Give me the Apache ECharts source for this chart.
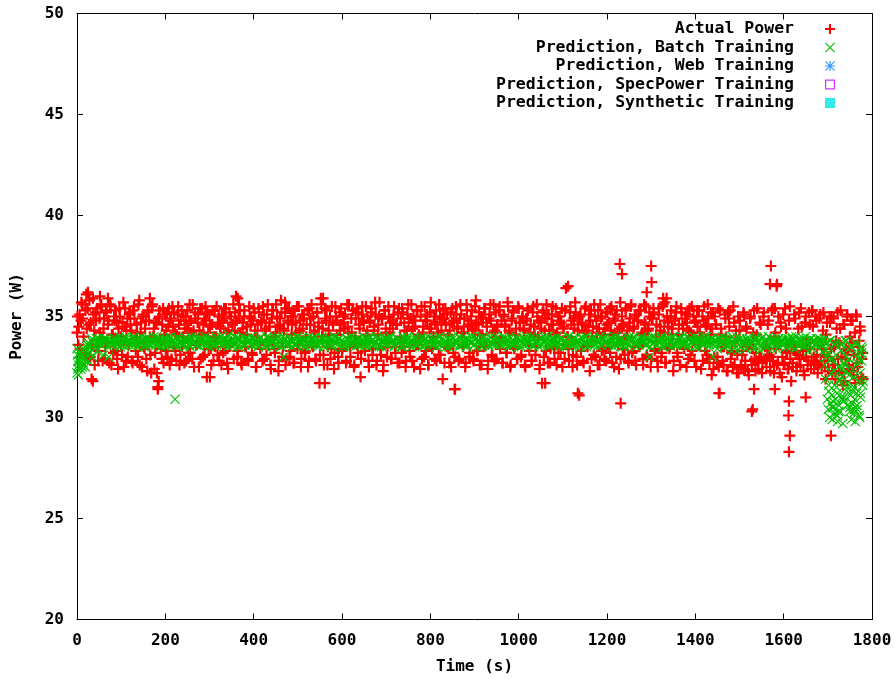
<!DOCTYPE html>
<html>
<head>
<meta charset="utf-8">
<script src="https://cdn.jsdelivr.net/npm/echarts@6/dist/echarts.min.js"></script>
<style>html,body{margin:0;padding:0;background:#fff;}#chart{width:895px;height:679px;}</style>
</head>
<body>
<div id="chart"></div>
<script>
// ---------------- DATA ----------------
const seriesNames = ['Actual Power', 'Prediction, Batch Training', 'Prediction, Web Training', 'Prediction, SpecPower Training', 'Prediction, Synthetic Training'];
const xTicks = [0, 200, 400, 600, 800, 1000, 1200, 1400, 1600, 1800];
const yTicks = [20, 25, 30, 35, 40, 45, 50];

// Actual power, samples A: every 3 s starting at t = 0
const actualStartA = 0, actualStep = 3;
const actualPowerA = [
34.2,33.6,35.1,34.8,35.6,34.0,33.2,36.1,35.4,34.6,33.0,31.9,35.9,34.3,35.2,33.5,32.8,34.9,35.5,33.9,
34.4,32.9,35.3,33.7,34.8,35.6,32.6,34.1,35.0,33.3,34.7,32.4,35.4,34.0,33.1,35.7,34.5,32.8,34.9,33.6,
35.2,34.3,32.7,35.5,33.9,34.6,33.0,35.8,34.2,32.5,35.1,33.4,34.8,32.3,35.3,34.0,32.2,35.6,34.4,33.2,
34.7,31.5,35.0,33.8,32.9,35.4,34.1,33.3,35.2,34.5,32.6,34.9,35.5,33.5,34.2,32.8,35.1,34.6,33.1,35.3,
34.0,32.7,35.0,34.4,33.2,35.6,34.8,32.9,34.3,35.2,33.6,34.7,32.5,35.4,34.1,33.0,34.9,35.5,32.0,34.2,
35.1,33.4,34.6,32.8,35.3,34.0,33.1,35.0,34.5,32.6,34.8,35.4,33.3,34.2,32.4,35.2,34.7,33.7,35.6,34.3,
36.0,33.0,34.9,35.3,32.7,34.4,35.0,33.5,34.1,32.9,35.5,34.6,33.2,34.8,35.2,32.5,34.0,35.4,33.6,34.7,
32.8,35.1,34.3,33.1,35.6,34.5,32.6,34.9,35.3,33.4,34.2,35.0,32.3,34.6,35.8,33.0,34.4,35.2,32.9,34.8,
35.4,33.3,34.1,35.0,32.7,34.7,35.5,33.6,34.3,32.5,35.1,34.9,33.2,34.0,35.3,32.8,34.6,35.6,33.5,34.2,
32.9,35.2,34.5,31.7,35.9,34.0,33.1,35.4,34.8,32.6,34.3,35.0,33.4,34.7,32.4,35.5,34.1,33.0,35.2,34.6,
33.3,35.0,34.4,32.7,35.6,34.2,33.5,34.9,35.3,32.5,34.0,35.4,33.2,34.6,32.0,35.1,34.8,33.6,35.5,34.3,
32.8,34.7,35.2,33.1,34.5,35.7,32.6,34.1,35.0,33.4,34.9,32.3,35.3,34.4,33.0,35.5,34.2,32.9,34.8,35.1,
33.5,34.6,32.7,35.4,34.0,33.2,35.2,34.7,32.5,34.3,35.6,33.3,34.9,32.8,35.0,34.5,33.6,35.3,34.1,32.4,
35.5,34.2,33.0,34.8,35.1,32.6,34.4,35.7,33.4,34.0,32.9,35.3,34.6,33.1,35.0,34.3,31.9,34.9,35.4,33.5,
34.1,32.7,35.2,34.7,33.2,31.4,35.5,34.4,32.8,34.9,35.1,33.6,34.2,32.5,35.6,34.5,33.0,34.8,35.3,32.9,
34.3,35.8,33.3,34.6,32.6,35.0,34.1,33.5,35.4,34.7,32.4,34.9,35.6,33.1,34.2,32.8,35.2,34.5,33.7,35.5,
34.0,32.7,35.1,34.6,33.2,35.7,34.3,32.5,34.8,35.3,33.4,34.1,32.9,35.5,34.7,33.0,35.0,34.4,32.6,34.9,
35.4,33.6,34.2,32.8,35.2,34.5,33.1,35.6,34.0,32.4,34.7,31.7,35.3,34.3,33.3,34.9,35.1,32.7,34.6,35.5,
33.5,34.1,32.6,35.0,34.8,33.2,35.4,34.4,32.9,36.4,34.0,33.4,35.2,34.6,32.5,34.9,35.7,33.0,34.3,31.1,
35.1,34.7,32.8,34.2,35.5,33.6,34.5,32.3,35.3,34.0,33.1,35.0,34.8,32.6,34.4,35.6,33.3,34.1,32.9,35.2,
34.6,33.5,35.4,34.3,32.7,34.9,35.1,33.0,34.2,32.4,35.7,34.5,33.4,33.9,35.3,34.0,32.8,34.7,35.5,33.2,
34.4,35.0,32.6,34.8,35.3,33.6,34.1,32.9,35.6,34.6,33.1,34.3,35.2,32.5,34.9,35.4,33.3,34.0,32.8,35.1,
34.5,33.0,35.5,34.2,32.7,35.9,34.7,33.4,35.0,34.4,32.3,34.8,35.2,33.2,34.1,32.6,35.4,34.6,33.5,34.9,
32.5,35.1,34.3,33.1,35.5,34.0,32.8,34.7,35.3,33.6,34.2,32.4,35.0,34.8,33.3,34.5,35.6,32.9,34.1,32.1,
35.2,33.0,34.6,32.7,35.4,31.2,34.4,33.5,32.6,35.1,34.0,32.3,34.9,35.3,33.2,32.5,34.7,33.8,32.2,35.0,
34.3,32.6,33.1,35.2,32.4,34.5,33.5,32.1,34.9,32.8,33.4,35.3,32.3,34.1,32.7,33.0,34.6,32.2,35.0,32.9,
32.8,33.4,34.8,32.5,33.0,35.4,32.2,34.2,36.5,32.7,33.6,34.7,32.0,35.1,32.6,34.4,33.2,32.4,35.5,31.8,
32.5,33.5,34.9,32.3,33.1,35.2,32.6,34.5,33.3,32.1,35.0,33.7,32.8,34.6,32.4,35.3,33.0,32.7,34.8,32.2,
33.6,35.1,32.5,34.3,33.1,31.9,34.7,32.8,35.0,33.4,32.2,34.9,32.6,33.8,35.2,32.3,34.4,33.0,31.6,34.6,
32.9,35.0,33.3,32.4,34.8,33.7,32.1,34.2,35.1,32.7,33.5,34.5,32.0,33.2
];
// Actual power, samples B: every 3 s starting at t = 1
const actualStartB = 1;
const actualPowerB = [
35.0,34.5,33.4,35.7,34.9,33.1,35.3,34.4,32.9,35.8,34.7,33.6,35.1,32.6,34.8,35.4,33.3,34.2,35.6,32.8,
34.9,33.5,35.2,34.6,32.7,35.5,34.1,33.2,34.8,35.3,32.9,34.4,35.0,33.6,34.7,32.5,35.4,34.3,33.0,35.1,
34.6,32.8,35.3,34.9,33.3,34.2,35.6,32.6,34.7,35.0,33.5,34.4,32.9,35.2,34.8,33.1,35.5,34.0,32.4,34.7,
32.2,34.9,35.3,33.4,34.6,32.7,35.1,34.3,33.0,35.4,34.8,32.9,34.5,35.2,33.3,34.1,35.5,32.6,34.8,33.5,
35.0,34.4,32.8,35.3,34.7,33.2,34.2,35.6,32.5,34.9,33.6,35.1,34.3,32.9,35.4,34.6,33.1,34.8,35.2,33.4,
34.5,32.6,35.3,34.0,33.5,35.5,34.7,32.8,34.4,35.1,33.2,34.9,35.4,32.7,34.3,33.6,35.0,34.6,32.9,35.2,
34.8,33.3,35.6,34.2,32.6,34.7,35.3,33.5,34.5,32.8,35.0,34.9,33.1,35.4,34.3,32.5,34.6,35.2,33.4,34.8,
35.5,32.9,34.4,35.1,33.6,34.7,32.4,35.3,34.0,33.2,35.6,34.5,32.8,34.9,35.2,33.5,34.3,32.6,35.4,34.7,
33.0,35.0,34.6,32.7,35.3,34.2,33.4,35.5,34.8,32.9,34.4,35.1,33.3,34.6,32.5,35.4,34.9,33.6,35.0,34.3,
32.8,35.2,34.7,33.1,35.6,34.4,32.6,34.9,35.3,33.5,34.1,32.9,35.5,34.6,33.2,35.0,34.8,32.7,34.3,35.4,
33.4,34.7,35.1,32.8,34.5,35.6,33.0,34.2,35.3,32.6,34.9,33.6,35.2,34.4,32.9,35.5,34.7,33.3,34.1,35.0,
32.5,34.8,35.4,33.4,34.3,35.1,32.8,34.6,35.7,33.1,34.9,32.6,35.3,34.2,33.5,35.0,34.7,32.9,34.4,35.5,
33.2,34.6,35.2,32.7,34.9,35.4,33.5,34.3,32.8,35.1,34.7,33.0,35.6,34.4,32.5,34.8,35.3,33.6,34.0,35.0,
32.9,34.5,35.5,33.3,34.8,32.6,35.2,34.4,33.5,35.0,34.7,32.8,34.2,35.6,33.1,34.9,35.3,32.7,34.6,35.1,
33.4,34.3,32.5,35.4,34.8,33.0,35.1,34.5,32.9,35.6,34.2,33.5,34.9,32.7,35.3,34.6,33.2,35.0,34.4,32.8,
35.5,34.7,33.3,35.2,34.1,32.6,34.9,35.4,33.6,34.5,32.8,35.1,34.8,33.0,35.6,34.3,32.9,34.6,35.3,33.4,
34.8,32.7,35.0,34.5,33.2,35.5,34.2,32.6,34.9,35.2,33.5,34.4,32.9,35.4,34.7,33.1,35.0,34.3,32.5,34.8,
35.3,33.3,34.6,32.8,35.5,34.1,33.5,35.0,34.8,32.6,34.4,35.2,33.0,34.9,35.6,32.7,34.3,33.4,35.1,34.6,
32.9,35.4,34.2,33.2,35.0,34.7,32.5,34.5,35.3,33.6,34.0,32.8,35.5,34.8,33.1,34.4,35.2,32.6,34.9,35.0,
33.3,34.6,32.7,35.4,34.3,33.5,35.1,34.8,32.9,34.5,35.6,33.0,34.2,35.3,32.6,34.9,35.0,33.4,34.4,32.8,
35.2,34.7,33.2,35.5,34.1,32.5,34.8,35.3,33.6,34.4,32.9,35.0,34.6,33.1,35.4,34.3,32.7,34.9,35.6,33.3,
34.5,32.8,35.1,34.8,33.5,35.3,34.2,32.6,34.7,35.5,33.0,34.4,35.0,32.9,34.9,35.2,33.4,34.6,32.5,35.4,
34.3,33.2,35.6,34.8,32.7,35.0,34.5,33.5,35.3,34.1,32.8,34.9,35.5,33.0,34.6,32.6,35.2,34.4,33.4,35.1,
34.7,32.9,35.4,34.2,33.3,35.0,34.8,32.5,34.5,35.3,33.6,34.0,32.8,35.5,34.6,33.1,34.9,32.7,35.2,34.4,
32.4,35.0,34.6,33.0,32.5,35.3,34.1,32.8,33.5,34.9,32.3,35.2,34.5,32.9,33.3,35.5,32.6,34.3,33.1,32.2,
34.8,32.5,33.3,35.1,32.8,34.4,32.3,33.6,35.0,32.6,34.2,32.9,33.2,35.4,32.4,34.7,33.0,32.7,35.2,33.5,
32.5,34.6,33.1,32.3,35.3,32.8,34.0,33.4,32.6,35.0,32.2,34.5,33.0,32.7,35.4,33.3,32.4,34.8,32.9,33.6,
32.7,35.1,33.2,32.5,34.4,32.9,35.4,33.5,32.3,34.7,33.0,32.6,35.2,33.4,32.8,34.5,32.4,35.0,33.1,32.6,
34.9,32.8,33.4,35.2,32.5,34.1,33.0,32.3,34.7,35.0,32.6,33.5,31.9,34.4,32.9,33.7,35.3,32.2,34.6,31.8,
33.4,35.1,32.6,34.0,32.3,34.8,33.1,31.7,35.0,32.5,33.8,34.3,32.9,31.9
];
// Individually read actual-power points [time s, power W]
const actualExtra = [
[25,36.2],[36,31.8],[52,36.0],[70,35.9],[165,35.9],[183,31.4],[185,31.8],[301,32.0],[364,35.9],
[471,35.7],[557,35.9],[561,31.7],[856,31.4],[1060,31.7],[1112,36.5],[1134,31.2],
[1229,37.6],[1234,37.1],[1231,30.7],[1290,36.2],[1300,37.5],[1301,36.7],[1327,35.9],[1331,35.7],
[1453,31.2],[1528,30.3],[1530,30.4],[1533,31.4],[1569,36.6],[1571,37.5],[1585,36.6],[1580,35.4],[1580,31.4],
[1612,30.8],[1611,30.1],[1614,29.1],[1612,28.3],[1650,31.0],[1664,35.3],[1707,29.1]
];

// Batch-training prediction, samples A: every 4 s starting at t = 0
const batchStartA = 0, batchStep = 4;
const batchPredA = [
32.2,32.6,33.0,32.5,32.9,33.3,33.6,33.5,33.8,33.7,33.6,33.9,33.7,33.8,33.6,33.9,33.7,33.8,33.0,33.7,
33.8,33.6,33.9,33.7,34.0,33.6,33.8,33.5,33.9,33.7,33.8,33.6,34.0,33.7,33.9,33.6,33.8,33.7,33.5,33.9,
33.7,33.9,33.6,33.8,33.7,34.0,33.6,33.8,33.7,33.9,33.5,33.8,33.6,33.9,33.7,33.8,33.6,34.0,33.7,33.8,
33.6,33.9,33.7,33.8,33.5,33.9,33.7,34.0,33.6,33.8,33.7,33.9,33.6,33.8,33.7,33.5,33.9,33.8,33.6,34.0,
33.7,33.8,33.6,33.9,33.7,33.8,34.1,33.6,33.8,33.7,33.9,33.5,33.8,33.7,34.0,33.6,33.9,33.7,33.8,33.6,
33.9,33.7,33.8,33.6,34.0,33.7,33.8,33.5,33.9,33.6,33.8,33.7,33.9,33.6,34.0,33.7,33.8,33.0,33.9,33.7,
33.6,33.8,33.7,33.9,33.6,34.0,33.8,33.7,33.5,33.9,33.7,33.8,33.6,33.9,33.7,34.0,33.6,33.8,33.7,33.9,
33.5,33.8,33.7,33.9,33.6,33.8,34.0,33.7,33.9,33.6,33.8,33.7,33.5,33.9,33.8,33.6,34.0,33.7,33.8,33.6,
33.9,33.7,33.8,33.6,33.9,33.7,34.0,33.8,33.6,33.7,33.9,33.5,33.8,33.7,33.9,33.6,33.8,34.0,33.7,33.8,
33.6,33.9,33.7,33.8,33.5,33.9,33.7,34.0,33.6,33.8,33.7,33.9,33.6,33.8,33.7,34.0,33.6,33.9,33.7,33.8,
33.7,33.8,33.6,33.9,33.7,34.0,33.6,33.8,33.7,33.5,33.9,33.8,33.6,33.9,33.7,33.8,34.0,33.6,33.8,33.7,
33.9,33.6,33.8,33.7,34.0,33.6,33.9,33.7,33.8,33.5,33.9,33.7,33.8,33.6,34.0,33.7,33.8,33.6,33.9,33.7,
33.8,33.6,33.9,33.7,33.8,34.0,33.6,33.8,33.7,33.9,33.5,33.8,33.7,33.9,33.6,33.8,33.7,34.0,33.6,33.9,
33.7,33.8,33.6,33.9,33.7,33.8,34.0,33.6,33.8,33.7,33.9,33.6,33.8,33.5,33.9,33.7,33.8,33.6,34.0,33.7,
33.8,33.6,33.9,33.7,33.8,33.5,33.9,33.7,34.0,33.6,33.8,33.7,33.9,33.6,33.8,33.7,34.0,33.6,33.9,33.7,
33.8,33.6,33.9,33.7,34.0,33.6,33.8,33.7,33.9,33.5,33.8,33.7,33.9,33.6,33.8,34.0,33.7,33.8,33.6,33.9,
33.7,33.8,33.6,33.9,33.0,33.8,33.7,34.0,33.6,33.8,33.7,33.9,33.5,33.8,33.6,33.9,33.7,34.0,33.6,33.8,
33.7,33.9,33.6,33.8,33.7,34.0,33.6,33.9,33.7,33.8,33.5,33.9,33.7,33.8,33.6,34.0,33.7,33.8,33.6,33.9,
33.0,33.8,33.6,33.9,33.7,33.8,33.5,33.9,33.6,33.8,33.7,34.0,33.6,33.8,33.3,33.9,33.7,33.8,33.5,33.9,
33.7,33.6,33.8,33.4,33.9,33.7,33.8,33.6,34.0,33.7,33.5,33.8,33.6,33.9,33.7,33.8,33.4,33.9,33.7,33.8,
33.6,33.9,33.7,33.8,33.5,33.9,33.7,34.0,33.6,33.8,33.7,33.9,33.6,33.8,33.3,33.9,33.7,33.8,33.6,33.9,
33.7,33.8,33.6,33.9,33.7,33.2,33.8,32.9,30.8,33.6,31.5,30.3,33.7,32.4,31.0,33.8,30.6,32.1,33.5,31.3,
30.4,33.6,32.7,30.0,33.2,31.8
];
// Batch-training prediction, samples B: every 4 s starting at t = 2
const batchStartB = 2;
const batchPredB = [
32.4,32.8,33.1,32.7,33.2,33.5,33.7,33.6,33.9,33.8,33.5,33.7,33.9,33.6,33.8,33.7,33.9,33.5,33.8,33.6,
33.9,33.7,33.6,33.8,33.5,33.9,33.7,34.0,33.8,33.6,33.7,33.9,33.6,33.8,33.5,33.7,34.0,33.8,33.6,33.9,
33.6,33.8,33.7,34.0,33.6,33.7,33.9,33.5,33.8,33.6,33.9,33.7,34.0,33.8,33.6,33.7,33.5,33.9,33.8,33.6,
33.8,33.5,33.9,33.6,34.0,33.7,33.8,33.6,33.9,33.5,33.8,33.7,34.0,33.6,33.9,33.7,33.8,33.6,33.5,33.9,
33.7,34.0,33.8,33.6,33.9,33.5,33.7,33.8,33.6,34.0,33.7,33.9,33.5,33.8,33.6,33.9,33.7,33.8,34.0,33.6,
33.8,33.6,33.5,33.9,33.7,33.8,33.6,34.0,33.7,33.9,33.5,33.8,33.6,33.9,33.7,33.5,34.0,33.8,33.6,33.7,
33.9,33.5,33.8,33.6,34.0,33.7,33.9,33.6,33.8,33.5,33.7,34.0,33.8,33.6,33.9,33.7,33.5,33.8,34.0,33.6,
33.7,33.9,33.6,33.8,33.5,34.0,33.7,33.6,33.9,33.8,33.5,33.7,33.9,33.6,34.0,33.8,33.7,33.5,33.9,33.6,
33.8,33.6,34.0,33.7,33.5,33.9,33.8,33.6,33.7,34.0,33.6,33.9,33.5,33.8,33.7,33.9,33.6,34.0,33.8,33.5,
33.6,33.9,33.7,33.5,34.0,33.8,33.6,33.9,33.7,33.5,33.8,34.0,33.6,33.7,33.9,33.5,33.8,33.6,34.0,33.7,
33.9,33.6,33.8,33.5,33.7,34.0,33.9,33.6,33.8,33.7,33.5,33.9,34.0,33.6,33.8,33.7,33.5,33.9,33.6,33.8,
33.5,33.8,34.0,33.7,33.6,33.9,33.5,33.8,33.7,34.0,33.6,33.9,33.8,33.5,33.7,33.6,34.0,33.9,33.7,33.6,
33.8,34.0,33.6,33.9,33.5,33.7,33.8,33.6,34.0,33.7,33.9,33.5,33.6,33.8,34.0,33.7,33.9,33.6,33.5,33.8,
33.7,33.5,33.9,33.6,34.0,33.8,33.7,33.5,33.9,33.6,33.8,34.0,33.7,33.6,33.9,33.5,33.8,33.7,34.0,33.6,
33.9,33.7,33.5,33.8,33.6,34.0,33.9,33.7,33.5,33.8,33.6,33.9,34.0,33.7,33.5,33.8,33.6,33.9,33.7,34.0,
33.6,33.8,33.9,33.5,33.7,34.0,33.6,33.8,33.9,33.7,33.5,33.6,34.0,33.8,33.9,33.7,33.5,33.6,33.8,34.0,
33.7,33.9,33.6,33.8,33.5,34.0,33.7,33.9,33.6,33.8,34.0,33.5,33.7,33.9,33.6,33.8,33.5,34.0,33.7,33.6,
33.9,33.7,34.0,33.6,33.8,33.5,33.9,33.7,33.6,34.0,33.8,33.5,33.9,33.7,33.6,33.8,34.0,33.5,33.7,33.9,
33.6,33.8,33.4,33.9,33.7,34.0,33.5,33.8,33.6,33.9,33.3,33.7,33.8,34.0,33.6,33.5,33.9,33.7,33.4,33.8,
33.9,33.6,33.5,33.8,34.0,33.7,33.3,33.9,33.6,33.8,33.5,34.0,33.7,33.4,33.9,33.6,33.8,33.5,33.7,33.9,
33.7,33.5,33.9,33.6,34.0,33.8,33.4,33.7,33.9,33.6,33.8,33.5,34.0,33.7,33.6,33.9,33.4,33.8,33.7,33.5,
33.9,33.6,33.8,33.4,33.7,31.6,33.8,30.5,32.3,33.7,30.1,31.8,33.6,30.9,32.6,33.8,31.4,30.3,33.5,32.0,
33.7,30.6,32.9,31.2,33.4
];
// Individually read batch-prediction points [time s, power W]
const batchExtra = [
[0,33.4],[1,33.1],[2,32.8],[3,32.1],[5,32.5],[6,33.2],[9,32.4],[11,33.0],[13,32.6],[14,33.3],[17,32.9],
[19,32.5],[22,33.1],[26,32.8],[30,33.2],[35,33.0],[45,33.3],[60,33.1],[222,30.9],
[1690,33.2],[1693,32.6],[1695,31.9],[1697,33.0],[1699,30.9],[1701,30.4],[1702,31.3],[1704,30.0],[1706,30.7],
[1707,32.2],[1709,31.1],[1710,29.9],[1712,30.5],[1713,32.8],[1715,31.6],[1716,30.2],[1718,30.9],[1719,33.1],
[1721,31.2],[1722,29.8],[1724,32.5],[1725,30.6],[1727,31.9],[1728,30.3],[1730,33.3],[1731,31.0],[1733,32.0],
[1734,29.7],[1736,30.8],[1737,32.7],[1739,31.4],[1741,33.0],[1742,32.3],[1744,31.7],[1746,33.4],[1748,32.9],
[1750,30.5],[1752,31.1],[1753,29.9],[1755,30.7],[1756,32.4],[1758,30.2],[1759,31.5],[1761,30.9],[1762,29.8],
[1764,32.6],[1765,31.2],[1767,30.4],[1768,33.1],[1770,31.8],[1771,30.1],[1773,32.2],[1774,31.0],[1776,33.5],
[1777,32.8],[1779,31.6]
];
// No visible points for these predictions in the plotted range
const webPred = [];
const specPowerPred = [];
const syntheticPred = [];

// ---------------- CHART ----------------
const PLUS = 'path://M4,0H6V4H10V6H6V10H4V6H0V4H4Z';
const CROSS = 'path://M0.8,0L10,9.2L9.2,10L0,0.8Z M9.2,0L10,0.8L0.8,10L0,9.2Z';
const STAR = 'path://M4.4,0H5.6V10H4.4Z M0,4.4H10V5.6H0Z M0.8,0L10,9.2L9.2,10L0,0.8Z M9.2,0L10,0.8L0.8,10L0,9.2Z';
const OPENSQ = 'path://M0,0H10V10H0Z M1.2,1.2V8.8H8.8V1.2Z';
const FILLSQ = 'path://M0,0H10V10H0Z';
const FONT = '"DejaVu Sans Mono", "Liberation Mono", monospace';

const toPoints = (vals, start, step) => vals.map((v, i) => [start + i * step, v]);
const actualData = toPoints(actualPowerA, actualStartA, actualStep)
  .concat(toPoints(actualPowerB, actualStartB, actualStep)).concat(actualExtra);
const batchData = toPoints(batchPredA, batchStartA, batchStep)
  .concat(toPoints(batchPredB, batchStartB, batchStep)).concat(batchExtra);

const chart = echarts.init(document.getElementById('chart'), null, {renderer: 'canvas'});
const axisCommon = {
  axisLine: {show: true, onZero: false, lineStyle: {color: '#000', width: 1}},
  axisTick: {show: true, inside: true, length: 6, lineStyle: {color: '#000', width: 1}},
  splitLine: {show: false}
};
const labelStyle = {color: '#000', fontFamily: FONT, fontWeight: 'bold', fontSize: 16};
chart.setOption({
  animation: false,
  backgroundColor: '#fff',
  grid: {left: 77, right: 23, top: 13.5, bottom: 59.5, containLabel: false, outerBoundsMode: 'none'},
  legend: {
    orient: 'vertical', align: 'right', right: 60, top: 19.75, padding: 0,
    itemWidth: 62, itemHeight: 10, itemGap: 0, selectedMode: false,
    textStyle: {color: '#000', fontFamily: FONT, fontWeight: 'bold', fontSize: 16.5, lineHeight: 18.5},
    data: [
      {name: seriesNames[0], icon: PLUS},
      {name: seriesNames[1], icon: CROSS},
      {name: seriesNames[2], icon: STAR},
      {name: seriesNames[3], icon: OPENSQ},
      {name: seriesNames[4], icon: FILLSQ}
    ]
  },
  xAxis: [
    Object.assign({type: 'value', min: xTicks[0], max: xTicks[xTicks.length - 1], interval: xTicks[1] - xTicks[0],
      position: 'bottom', name: 'Time (s)', nameLocation: 'middle', nameGap: 39,
      nameTextStyle: labelStyle,
      axisLabel: Object.assign({margin: 13, formatter: v => String(v)}, labelStyle)}, axisCommon),
    Object.assign({type: 'value', min: xTicks[0], max: xTicks[xTicks.length - 1], interval: xTicks[1] - xTicks[0],
      position: 'top', axisLabel: {show: false}}, axisCommon)
  ],
  yAxis: [
    Object.assign({type: 'value', min: yTicks[0], max: yTicks[yTicks.length - 1], interval: yTicks[1] - yTicks[0],
      position: 'left', name: 'Power (W)', nameLocation: 'middle', nameGap: 52,
      nameTextStyle: labelStyle,
      axisLabel: Object.assign({margin: 13, formatter: v => String(v)}, labelStyle)}, axisCommon),
    Object.assign({type: 'value', min: yTicks[0], max: yTicks[yTicks.length - 1], interval: yTicks[1] - yTicks[0],
      position: 'right', axisLabel: {show: false}}, axisCommon)
  ],
  series: [
    {name: seriesNames[0], type: 'scatter', data: actualData, symbol: PLUS, symbolSize: 11,
      itemStyle: {color: '#ff0000', opacity: 1}, silent: true, large: false},
    {name: seriesNames[1], type: 'scatter', data: batchData, symbol: CROSS, symbolSize: 10,
      itemStyle: {color: '#00c000', opacity: 1}, silent: true, large: false},
    {name: seriesNames[2], type: 'scatter', data: webPred, symbol: STAR, symbolSize: 10,
      itemStyle: {color: '#0080ff'}},
    {name: seriesNames[3], type: 'scatter', data: specPowerPred, symbol: OPENSQ, symbolSize: 10,
      itemStyle: {color: '#c000ff'}},
    {name: seriesNames[4], type: 'scatter', data: syntheticPred, symbol: FILLSQ, symbolSize: 10,
      itemStyle: {color: '#00e5e5'}}
  ]
});
</script>
</body>
</html>
